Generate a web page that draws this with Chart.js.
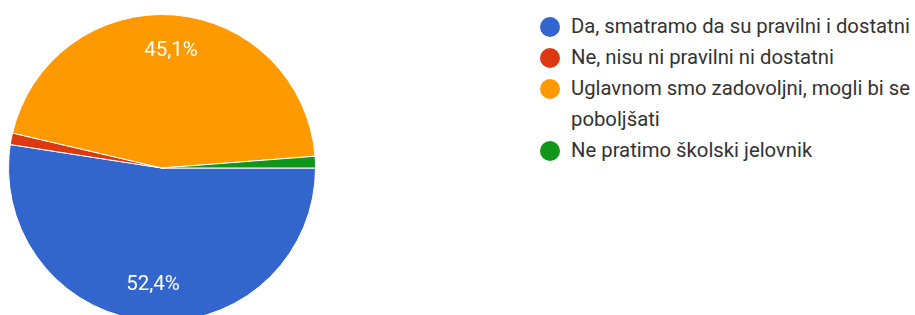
<!DOCTYPE html>
<html>
<head>
<meta charset="utf-8">
<script src="https://cdn.jsdelivr.net/npm/chart.js@4/dist/chart.umd.min.js"></script>
<style>
  html, body { margin: 0; padding: 0; background: #fff; overflow: hidden; }
  body { width: 915px; height: 315px; position: relative; font-family: Roboto, Arial, sans-serif; }
  #pieBox { position: absolute; left: 8px; top: 14px; width: 308px; height: 308px; }
  #legend { position: absolute; left: 540px; top: 11px; width: 375px; }
  .item { display: flex; align-items: flex-start; font-size: 20.3px; line-height: 31px; color: #333; }
  .dot { width: 20px; height: 20px; border-radius: 50%; flex: none; margin: 6px 11px 0 0; }
</style>
</head>
<body>
<div id="pieBox"><canvas id="pie"></canvas></div>
<div id="legend"></div>
<script>
// answers and counts (82 responses)
const labels = [
    "Da, smatramo da su pravilni i dostatni",
    "Ne, nisu ni pravilni ni dostatni",
    "Uglavnom smo zadovoljni, mogli bi se poboljšati",
    "Ne pratimo školski jelovnik"
];
const counts = [43, 1, 37, 1];
const colors = ["#3366cc", "#dc3912", "#ff9900", "#109618"];

// HTML legend (so the long label can wrap like the original)
const legendEl = document.getElementById("legend");
labels.forEach((text, i) => {
    const row = document.createElement("div");
    row.className = "item";
    row.innerHTML = `<span class="dot" style="background:${colors[i]}"></span><span>${text}</span>`;
    legendEl.appendChild(row);
});

// percentages inside the big slices
const sliceLabels = {
    id: "sliceLabels",
    afterDatasetsDraw(chart) {
        const { ctx } = chart;
        const total = counts.reduce((a, b) => a + b, 0);
        chart.getDatasetMeta(0).data.forEach((arc, i) => {
            const pct = counts[i] / total * 100;
            if (pct < 5) return;
            const mid = (arc.startAngle + arc.endAngle) / 2;
            const r = arc.outerRadius * 0.765;
            const x = arc.x + Math.cos(mid) * r;
            const y = arc.y + Math.sin(mid) * r;
            ctx.save();
            ctx.fillStyle = "#fff";
            ctx.font = "20.5px Roboto, Arial, sans-serif";
            ctx.textAlign = "center";
            ctx.textBaseline = "middle";
            ctx.fillText(pct.toFixed(1).replace(".", ",") + "%", x, y);
            ctx.restore();
        });
    }
};

new Chart(document.getElementById("pie"), {
    type: "pie",
    data: {
        labels: labels,
        datasets: [{
            data: counts,
            backgroundColor: colors,
            borderColor: "#fff",
            borderWidth: 1
        }]
    },
    options: {
        responsive: true,
        maintainAspectRatio: false,
        animation: false,
        rotation: 90, // start at 3 o'clock like Google Forms
        layout: { padding: 0 },
        plugins: {
            legend: { display: false },
            tooltip: { enabled: false }
        }
    },
    plugins: [sliceLabels]
});
</script>
</body>
</html>
